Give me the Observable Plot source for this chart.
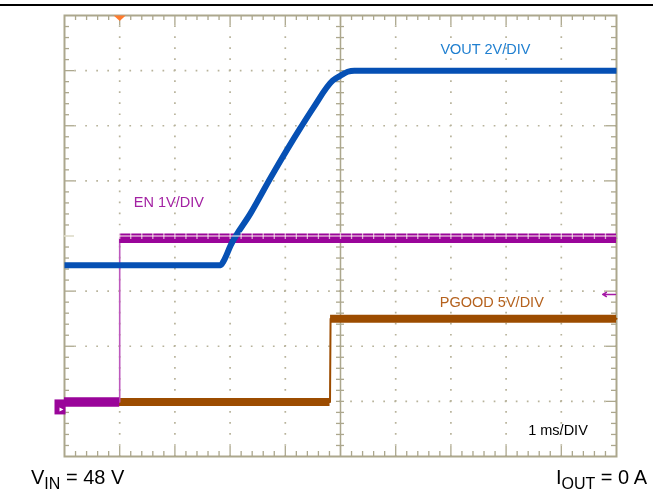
<!DOCTYPE html>
<html><head><meta charset="utf-8">
<script src="https://cdn.jsdelivr.net/npm/d3@7"></script>
<script src="https://cdn.jsdelivr.net/npm/@observablehq/plot@0.6"></script>
<style>
body{margin:0;background:#fff;font-family:"Liberation Sans",Arial,sans-serif;}
#wrap{position:relative;width:653px;height:491px;overflow:hidden;}
#topline{position:absolute;left:0;top:4px;width:653px;height:2px;background:#000;}
#chart{position:absolute;left:0;top:0;}
.cap{position:absolute;top:467px;font-size:20px;line-height:20px;color:#000;white-space:nowrap;}
.cap sub{font-size:16px;vertical-align:-5px;line-height:0;}
</style></head><body>
<div id="wrap"><div id="chart"></div><div id="topline"></div>
<div class="cap" style="left:31px">V<sub>IN</sub> = 48 V</div>
<div class="cap" style="right:6px">I<sub>OUT</sub> = 0 A</div>
</div>
<script>
// Time in divisions (1 ms/DIV), level in screen divisions (0 = bottom of graticule)
const voutT = [0, 2.83, 2.88, 3.01, 3.37, 3.77, 4.28, 4.51, 4.86, 5.0, 5.13, 5.25, 10];
const voutV = [3.47, 3.47, 3.54, 3.83, 4.41, 5.12, 5.97, 6.33, 6.82, 6.91, 6.98, 7.0, 7.0];
const enT = [0, 1.0, 1.0, 10];
const enV = [0.99, 0.99, 3.96, 3.96];
const pgoodT = [0, 4.81, 4.82, 10];
const pgoodV = [0.99, 0.99, 2.5, 2.5];
const traceLabels = ["VOUT 2V/DIV", "EN 1V/DIV", "PGOOD 5V/DIV"];
const timebaseLabel = ["1 ms/DIV"];
const triggerT = [1.0];
const enTriggerLevel = [2.94];

const W = 653, H = 466, ML = 64, MR = 37, MT = 15, MB = 10;
const pxX = 10 / (W - ML - MR), pxY = 8 / (H - MT - MB);
const gridC = "#aca78d", dotC = "#b8b39b";
const blue = "#0650b4", mag = "#9a059a", brown = "#9c4c00";

const toPts = (T, V) => T.map((t, i) => ({t, v: V[i]}));
const flats = (T, V) => {
  const s = [];
  for (let i = 0; i < T.length - 1; i++) if (V[i] === V[i + 1]) s.push({x1: T[i], x2: T[i + 1], v: V[i]});
  return s;
};
const minorX = d3.range(1, 50).map(k => k / 5);
const minorY = d3.range(1, 40).map(k => k / 5);
const isMajor = d => Math.abs(d - Math.round(d)) < 1e-6;
const gridX = [1, 2, 3, 4, 6, 7, 8, 9];
const gridY = [1, 2, 3, 5, 6, 7];

const trigSym = {draw(ctx) { ctx.moveTo(-6, 0); ctx.lineTo(6, 0); ctx.lineTo(0, 5.5); ctx.closePath(); }};
const chMarkSym = {draw(ctx) { ctx.rect(-10, -2.5, 11, 15); }};
const chArrowSym = {draw(ctx) { ctx.moveTo(-5, 5.5); ctx.lineTo(-1, 7.5); ctx.lineTo(-5, 9.5); ctx.closePath(); }};

const font = "Liberation Sans, Arial, sans-serif";

const plot = Plot.plot({
  width: W, height: H,
  marginLeft: ML, marginRight: MR, marginTop: MT, marginBottom: MB,
  x: {domain: [0, 10], axis: null},
  y: {domain: [0, 8], axis: null},
  style: {background: "transparent", overflow: "visible"},
  marks: [
    // dotted graticule
    Plot.ruleX(gridX, {x: d => d, stroke: dotC, strokeWidth: 1.7, strokeDasharray: "1.7 9.325", strokeDashoffset: 0.85}),
    Plot.ruleY(gridY, {y: d => d, stroke: dotC, strokeWidth: 1.7, strokeDasharray: "1.7 9.34", strokeDashoffset: 0.85}),
    // center vertical line with ticks
    Plot.ruleX([5], {x: d => d, stroke: gridC, strokeWidth: 1.5}),
    Plot.ruleY(minorY, {y: d => d, x1: () => 5 - 4 * pxX, x2: () => 5 + 4 * pxX, stroke: gridC, strokeWidth: 1.3}),
    // frame edge ticks
    Plot.ruleX(minorX, {x: d => d, y1: () => 8, y2: d => 8 - (isMajor(d) ? 10 : 5) * pxY, stroke: gridC, strokeWidth: 1.3}),
    Plot.ruleX(minorX, {x: d => d, y1: () => 0, y2: d => (isMajor(d) ? 10 : 5) * pxY, stroke: gridC, strokeWidth: 1.3}),
    Plot.ruleY(minorY, {y: d => d, x1: () => 0, x2: d => (isMajor(d) ? 10 : 5) * pxX, stroke: gridC, strokeWidth: 1.3}),
    Plot.ruleY(minorY, {y: d => d, x1: () => 10, x2: d => 10 - (isMajor(d) ? 10 : 5) * pxX, stroke: gridC, strokeWidth: 1.3}),
    Plot.frame({stroke: gridC, strokeWidth: 2}),
    // PGOOD
    Plot.line(toPts(pgoodT, pgoodV), {x: "t", y: "v", stroke: brown, strokeWidth: 2}),
    Plot.ruleY(flats(pgoodT, pgoodV), {x1: "x1", x2: "x2", y: "v", stroke: brown, strokeWidth: 8}),
    // EN
    Plot.line(toPts(enT, enV), {x: "t", y: "v", stroke: "#bd58bd", strokeWidth: 1.6}),
    Plot.ruleY(flats(enT, enV), {x1: "x1", x2: "x2", y: "v", stroke: mag, strokeWidth: 9.5}),
    // VOUT
    Plot.line(toPts(voutT, voutV), {x: "t", y: "v", stroke: blue, strokeWidth: 6, strokeLinejoin: "round", strokeLinecap: "butt", curve: "monotone-x"}),
    // center horizontal line with ticks (drawn over traces, screen blended)
    Plot.ruleY([4], {y: d => d, stroke: gridC, strokeWidth: 1.5, mixBlendMode: "screen"}),
    Plot.ruleX(minorX, {x: d => d, y1: () => 4 - 3.5 * pxY, y2: () => 4 + 3.5 * pxY, stroke: gridC, strokeWidth: 1.3, mixBlendMode: "screen"}),
    // markers
    Plot.dot(triggerT, {x: d => d, frameAnchor: "top", symbol: trigSym, fill: "#ff7b2e", stroke: "none"}),
    Plot.dot(enV.slice(0, 1), {x: () => 0, y: d => d, symbol: chMarkSym, fill: mag, stroke: "none"}),
    Plot.dot(enV.slice(0, 1), {x: () => 0, y: d => d, symbol: chArrowSym, fill: "#fff", stroke: "none"}),
    Plot.arrow(enTriggerLevel, {x1: () => 9.98, x2: () => 9.75, y1: d => d, y2: d => d, stroke: "#a51aa5", strokeWidth: 1.5, headLength: 6}),
    // labels
    Plot.text([traceLabels[0]], {x: () => 6.81, y: () => 7.39, text: d => d, textAnchor: "start", fill: "#1f7fd0", fontSize: 14.5, fontFamily: font}),
    Plot.text([traceLabels[1]], {x: () => 1.255, y: () => 4.61, text: d => d, textAnchor: "start", fill: "#a322a3", fontSize: 14.5, fontFamily: font}),
    Plot.text([traceLabels[2]], {x: () => 6.80, y: () => 2.80, text: d => d, textAnchor: "start", fill: "#b5621e", fontSize: 14.5, fontFamily: font}),
    Plot.text(timebaseLabel, {x: () => 8.40, y: () => 0.47, text: d => d, textAnchor: "start", fill: "#000", fontSize: 14.5, fontFamily: font})
  ]
});
document.getElementById("chart").appendChild(plot);
</script>
</body></html>
